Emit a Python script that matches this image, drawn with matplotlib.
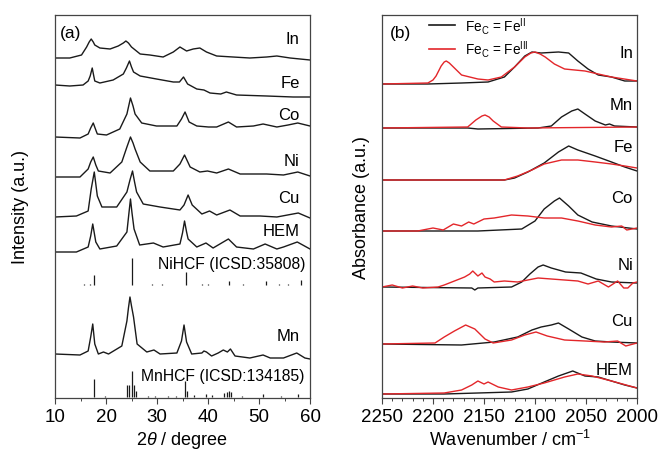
import numpy as np
import matplotlib
matplotlib.use("Agg")
import matplotlib.pyplot as plt

plt.rcParams["font.family"] = ["Liberation Sans", "DejaVu Sans"]
plt.rcParams["mathtext.fontset"] = "custom"
plt.rcParams["mathtext.rm"] = "Liberation Sans"
plt.rcParams["mathtext.it"] = "Liberation Sans:italic"

BLACK = "#1a1a1a"
RED = "#e3262a"

# ── (a) XRD patterns, 2θ in degree, intensity already stacked (a.u.) ────────
in_x = [10, 12.9, 15.2, 16.2, 16.7, 17.1, 17.5, 17.8, 18.8, 20.8, 22.4, 23.4, 23.9, 24.4, 25.0,
        26.7, 28.6, 31.2, 33.2, 34.5, 35.8, 37.1, 38.4, 39.7, 41.7, 44.9, 48.2, 51.5, 53.5,
        56.1, 60]
in_y = [340, 340, 343, 351, 356, 359, 356, 353, 350, 349, 352, 355, 357, 355, 351,
        344, 343, 341, 346, 351, 347, 349, 350, 346, 342, 341, 340, 341, 342,
        340, 338]

fe_x = [10, 12.9, 15.5, 16.5, 16.9, 17.3, 17.6, 17.8, 18.8, 21.4, 23.4, 24.0, 24.6, 25.0, 25.4,
        26.7, 29.9, 33.2, 34.4, 35.2, 36.0, 37.8, 39.2, 40.4, 42.5, 43.6, 45.6, 51.5, 56.7, 60]
fe_y = [313, 312, 313, 317, 322, 330, 322, 317, 315, 318, 324, 330, 337, 331, 326,
        322, 319, 316, 316, 321, 314, 309, 308, 305, 304, 306, 303, 302, 301, 301]

co_x = [10, 14.9, 16.5, 17.0, 17.5, 18.0, 18.3, 20.1, 22.7, 24.1, 24.8, 25.3, 25.7, 27.0, 29.9,
        33.9, 34.8, 35.5, 36.3, 37.8, 40.1, 41.7, 44.0, 45.6, 48.9, 50.8, 53.5, 55.7, 57.6, 60]
co_y = [261, 260, 264, 270, 275, 268, 264, 263, 269, 284, 300, 292, 284, 275, 272,
        272, 279, 286, 276, 272, 271, 271, 276, 271, 272, 274, 271, 273, 275, 272]

ni_x = [10, 14.9, 16.5, 17.0, 17.5, 18.0, 18.5, 20.8, 23.1, 24.1, 24.8, 25.3, 25.7, 26.7, 28.6,
        33.2, 34.5, 35.4, 36.5, 38.4, 39.9, 41.7, 44.0, 46.3, 51.5, 54.8, 57.6, 60]
ni_y = [221, 221, 229, 236, 241, 233, 227, 225, 236, 251, 261, 255, 249, 236, 227,
        227, 234, 243, 231, 226, 227, 225, 229, 224, 224, 223, 226, 222]

cu_x = [10, 14.2, 16.5, 17.1, 17.7, 18.3, 19.2, 22.1, 24.1, 24.7, 25.2, 25.6, 26.0, 27.3, 30.6,
        34.5, 35.3, 36.1, 36.9, 38.8, 40.3, 41.7, 44.3, 46.3, 50.2, 53.5, 57.7, 60]
cu_y = [181, 182, 187, 209, 226, 202, 191, 191, 206, 218, 227, 216, 206, 194, 191,
        188, 193, 203, 193, 184, 187, 183, 188, 182, 182, 181, 185, 180]

hem_x = [10, 14.2, 16.5, 17.0, 17.4, 18.0, 18.8, 22.1, 24.1, 24.5, 24.8, 25.1, 25.5, 26.6, 29.3,
         31.2, 34.5, 35.0, 35.4, 35.8, 36.1, 37.8, 39.6, 41.0, 44.0, 45.6, 48.9, 51.2, 53.5,
         54.8, 57.5, 60]
hem_y = [146, 146, 151, 162, 174, 156, 149, 152, 166, 185, 199, 185, 169, 153, 155,
         151, 154, 165, 177, 166, 159, 151, 155, 150, 159, 151, 149, 154, 149,
         151, 156, 149]

mn_x = [10, 14.9, 16.5, 17.0, 17.4, 17.8, 18.5, 19.5, 20.5, 23.1, 24.1, 24.4, 24.7, 25.0, 25.4,
        26.1, 28.0, 29.4, 30.6, 33.9, 34.8, 35.3, 35.8, 36.8, 38.8, 39.2, 39.7, 40.7, 42.0,
        43.0, 43.8, 44.4, 45.3, 48.2, 50.8, 52.2, 54.8, 57.4, 59.0, 60]
mn_y = [44, 43, 47, 61, 74, 54, 44, 46, 44, 52, 77, 90, 101, 92, 81,
        54, 46, 48, 44, 45, 57, 73, 56, 44, 45, 47, 46, 42, 45,
        48, 46, 49, 42, 40, 43, 40, 40, 45, 40, 39]

xrd_x = [in_x, fe_x, co_x, ni_x, cu_x, hem_x, mn_x]
xrd_y = [in_y, fe_y, co_y, ni_y, cu_y, hem_y, mn_y]
xrd_names = ["In", "Fe", "Co", "Ni", "Cu", "HEM", "Mn"]
xrd_label_y = [360, 315, 283, 238, 200, 167, 62]

# reference sticks (position, height)
nihcf_pos = [15.6, 16.9, 17.7, 25.1, 29.0, 30.9, 35.7, 38.8, 40.0, 44.1, 46.9, 51.3, 54.0, 55.7, 58.2]
nihcf_h = [1, 1, 10, 27, 1, 1, 13, 1, 1, 4, 1, 4, 1, 1, 5]
nihcf_base = 113

mnhcf_pos = [17.6, 19.8, 24.2, 24.6, 25.0, 25.4, 25.8, 28.3, 29.6, 32.2, 33.7, 35.5, 35.8, 37.3,
             39.7, 40.7, 43.2, 43.7, 44.1, 44.5, 46.6, 50.8, 54.4, 57.7]
mnhcf_h = [18, 1.5, 12, 12, 26, 12, 6, 1.5, 1.5, 1, 1, 16, 6, 2,
           3, 2, 4, 5, 6, 5, 1, 3, 1, 3]
mnhcf_base = 1

# ── (b) IR spectra, wavenumber in cm-1 ─────────────────────────────────────
in_k_x = [2250, 2205, 2172, 2146, 2130, 2120, 2110, 2103, 2094, 2077, 2067, 2058, 2048, 2038, 2025, 2012, 2000]
in_k_y = [314, 314, 315, 316, 321, 331, 342, 346, 345, 346, 345, 337, 329, 323, 321, 317, 317]
in_r_x = [2250, 2205, 2200, 2197, 2192, 2189, 2187, 2184, 2180, 2172, 2164, 2156, 2146, 2133, 2120,
          2110, 2104, 2100, 2095, 2090, 2081, 2071, 2051, 2038, 2025, 2000]
in_r_y = [314, 315, 318, 322, 332, 336, 337, 335, 331, 323, 321, 319, 318, 321, 331,
          341, 345, 346, 344, 341, 334, 329, 327, 324, 321, 317]

mn_k_x = [2250, 2166, 2156, 2097, 2084, 2074, 2064, 2058, 2051, 2041, 2031, 2027, 2022, 2000]
mn_k_y = [270, 270, 269, 270, 272, 281, 287, 289, 284, 277, 273, 274, 272, 271]
mn_r_x = [2250, 2166, 2158, 2152, 2149, 2145, 2141, 2133, 2107, 2000]
mn_r_y = [270, 271, 278, 282, 283, 281, 277, 271, 270, 271]

fe_k_x = [2250, 2130, 2120, 2107, 2091, 2077, 2067, 2058, 2041, 2025, 2012, 2000]
fe_k_y = [218, 218, 220, 226, 235, 246, 252, 248, 242, 236, 231, 227]
fe_r_x = [2250, 2130, 2117, 2103, 2091, 2074, 2058, 2041, 2025, 2012, 2000]
fe_r_y = [218, 218, 222, 228, 234, 238, 238, 236, 234, 232, 230]

co_k_x = [2250, 2156, 2113, 2100, 2091, 2081, 2076, 2067, 2058, 2044, 2025, 2000]
co_k_y = [167, 167, 169, 177, 189, 197, 200, 192, 183, 176, 172, 169]
co_r_x = [2250, 2215, 2200, 2190, 2180, 2172, 2165, 2160, 2150, 2140, 2123, 2107, 2091, 2074,
          2058, 2041, 2025, 2015, 2010, 2000]
co_r_y = [167, 167, 170, 168, 174, 172, 176, 174, 179, 180, 183, 182, 180, 180,
          177, 173, 171, 172, 168, 170]

ni_k_x = [2250, 2162, 2159, 2156, 2123, 2113, 2105, 2097, 2092, 2084, 2070, 2055, 2040, 2025, 2000]
ni_k_y = [111, 110, 108, 110, 111, 116, 124, 131, 133, 130, 126, 125, 119, 116, 115]
ni_r_x = [2250, 2240, 2230, 2220, 2210, 2195, 2189, 2179, 2169, 2164, 2161, 2156, 2152, 2149, 2144,
          2140, 2130, 2117, 2097, 2084, 2071, 2058, 2048, 2038, 2028, 2019, 2013, 2009, 2004, 2000]
ni_r_y = [111, 113, 110, 112, 110, 111, 113, 117, 121, 124, 127, 122, 125, 121, 119,
          116, 117, 116, 120, 119, 118, 117, 114, 117, 111, 117, 110, 110, 115, 116]

cu_k_x = [2250, 2172, 2140, 2117, 2103, 2094, 2084, 2077, 2067, 2054, 2041, 2025, 2000]
cu_k_y = [54, 53, 56, 61, 68, 71, 73, 75, 69, 61, 57, 56, 55]
cu_r_x = [2250, 2198, 2189, 2179, 2168, 2159, 2149, 2141, 2123, 2110, 2099, 2088, 2071, 2051,
          2032, 2019, 2011, 2000]
cu_r_y = [54, 55, 61, 67, 73, 69, 59, 55, 58, 63, 66, 62, 58, 57,
          56, 57, 52, 55]

hem_k_x = [2250, 2189, 2156, 2123, 2107, 2091, 2077, 2063, 2051, 2038, 2025, 2012, 2000]
hem_k_y = [4, 4, 5, 6, 9, 16, 22, 27, 22, 21, 17, 13, 10]
hem_r_x = [2250, 2189, 2172, 2162, 2156, 2150, 2146, 2136, 2123, 2107, 2091, 2071, 2058, 2044, 2025, 2000]
hem_r_y = [4, 5, 8, 13, 17, 14, 16, 11, 8, 11, 15, 21, 24, 22, 17, 10]

ir_names = ["In", "Mn", "Fe", "Co", "Ni", "Cu", "HEM"]
ir_black = [(in_k_x, in_k_y), (mn_k_x, mn_k_y), (fe_k_x, fe_k_y), (co_k_x, co_k_y),
            (ni_k_x, ni_k_y), (cu_k_x, cu_k_y), (hem_k_x, hem_k_y)]
ir_red = [(in_r_x, in_r_y), (mn_r_x, mn_r_y), (fe_r_x, fe_r_y), (co_r_x, co_r_y),
          (ni_r_x, ni_r_y), (cu_r_x, cu_r_y), (hem_r_x, hem_r_y)]
ir_label_y = [345, 294, 251, 200, 134, 78, 28]


def style_axes(ax):
    for sp in ax.spines.values():
        sp.set_color("#444444")
        sp.set_linewidth(0.9)
    ax.set_yticks([])
    ax.tick_params(axis="x", which="major", direction="out", length=4, width=0.8,
                   color="#444444", labelsize=13.5, pad=3)
    ax.tick_params(axis="x", which="minor", direction="out", length=2.5, width=0.7,
                   color="#444444")


fig = plt.figure(figsize=(6.58, 4.52), dpi=100)
ax1 = fig.add_axes([55 / 658, 53 / 452, 255 / 658, 383 / 452])
ax2 = fig.add_axes([382 / 658, 53 / 452, 255 / 658, 383 / 452])

# ── panel (a) ──
for xs, ys in zip(xrd_x, xrd_y):
    ax1.plot(xs, ys, color=BLACK, lw=1.0)
for name, ly in zip(xrd_names, xrd_label_y):
    ax1.text(58.0, ly, name, ha="right", va="center", fontsize=12)
ax1.vlines(nihcf_pos, nihcf_base, np.add(nihcf_base, nihcf_h), color=BLACK, lw=0.9)
ax1.vlines(mnhcf_pos, mnhcf_base, np.add(mnhcf_base, mnhcf_h), color=BLACK, lw=0.9)
ax1.text(59.0, 134, "NiHCF (ICSD:35808)", ha="right", va="center", fontsize=11.3)
ax1.text(58.8, 22, "MnHCF (ICSD:134185)", ha="right", va="center", fontsize=11.3)
ax1.text(0.02, 0.955, "(a)", transform=ax1.transAxes, ha="left", va="center", fontsize=12.5)
ax1.set_xlim(10, 60)
ax1.set_ylim(0, 383)
ax1.set_xticks(np.arange(10, 61, 10))
ax1.set_xticks(np.arange(15, 60, 10), minor=True)
ax1.set_xlabel(r"2$\mathit{\theta}$ / degree", fontsize=13, labelpad=3)
ax1.set_ylabel("Intensity (a.u.)", fontsize=13, labelpad=19)
style_axes(ax1)

# ── panel (b) ──
for (kx, ky), (rx, ry) in zip(ir_black, ir_red):
    ax2.plot(kx, ky, color=BLACK, lw=1.0)
    ax2.plot(rx, ry, color=RED, lw=1.0)
for name, ly in zip(ir_names, ir_label_y):
    ax2.text(2004, ly, name, ha="right", va="center", fontsize=12)
h1, = ax2.plot([], [], color=BLACK, lw=1.2)
h2, = ax2.plot([], [], color=RED, lw=1.2)
ax2.legend([h1, h2],
           [r"Fe$_\mathregular{C}$ = Fe$^\mathregular{II}$",
            r"Fe$_\mathregular{C}$ = Fe$^\mathregular{III}$"],
           loc="upper left", bbox_to_anchor=(0.175, 1.008), frameon=False, fontsize=9.8,
           handlelength=1.9, handletextpad=0.7, labelspacing=0.15, borderaxespad=0, borderpad=0.2)
ax2.text(0.03, 0.955, "(b)", transform=ax2.transAxes, ha="left", va="center", fontsize=12.5)
ax2.set_xlim(2250, 2000)
ax2.set_ylim(0, 383)
ax2.set_xticks(np.arange(2250, 1999, -50))
ax2.set_xticks(np.arange(2240, 2000, -10), minor=True)
ax2.set_xlabel(r"Wavenumber / cm$^{-1}$", fontsize=13, labelpad=3)
ax2.set_ylabel("Absorbance (a.u.)", fontsize=13, labelpad=9)
style_axes(ax2)

fig.savefig("out.png", dpi=100)
